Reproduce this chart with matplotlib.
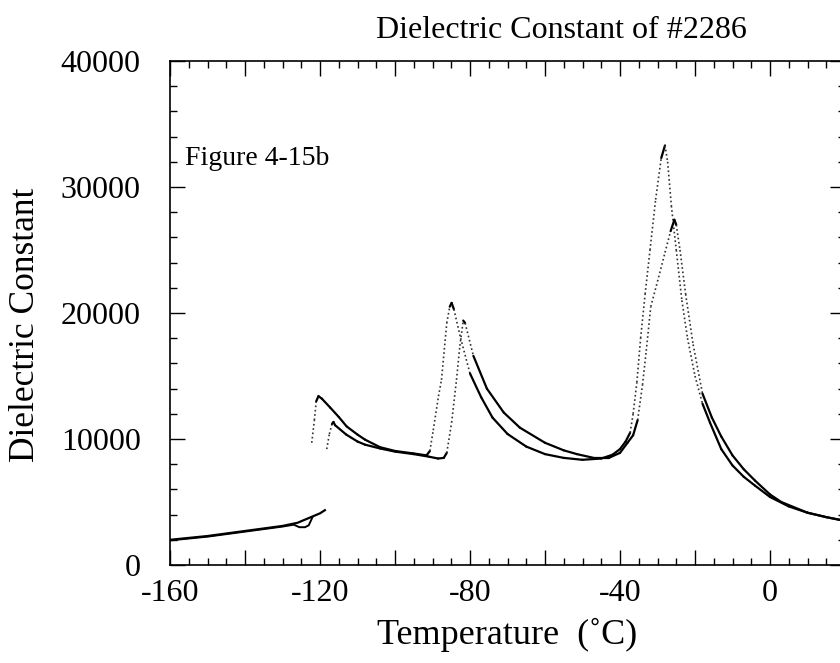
import matplotlib
matplotlib.use("Agg")
import matplotlib.pyplot as plt
from matplotlib.ticker import MultipleLocator, FuncFormatter

plt.rcParams['font.family'] = ['Liberation Serif', 'DejaVu Serif']

# low temperature branch (both runs)
low_a_t = [-160, -150, -140, -130, -126, -124, -122, -120, -118.7]
low_a_v = [2000, 2300, 2700, 3100, 3350, 3600, 3850, 4100, 4350]
low_b_t = [-160, -150, -140, -130, -127, -125.5, -124, -123, -122]
low_b_v = [1950, 2250, 2650, 3050, 3200, 3000, 3000, 3150, 3800]

# run A
a_t = [-122.2, -121.5, -121, -120.4, -119.5, -117.3, -115, -112.9, -110, -108,
       -104, -100, -95, -91.6, -90.7, -89.8, -88.4, -87.6, -86.2, -85.4,
       -84.9, -84.3, -82.5, -80, -77, -74, -70, -65, -60, -55,
       -50, -45, -42, -40, -38.5, -37.3, -36.5, -35.5, -34.5, -33.3,
       -32, -30.5, -29, -28, -27.3, -26.3, -25, -23.5, -22, -20,
       -18, -16, -13, -10, -7, -4, 0, 5, 10, 15, 20]
a_v = [9700, 11500, 13000, 13400, 13200, 12500, 11750, 11000, 10350, 9950,
       9350, 9050, 8850, 8700, 9050, 10700, 13400, 14700, 19200, 20500,
       20800, 20300, 18000, 15200, 13300, 11700, 10400, 9400, 8800, 8500,
       8350, 8450, 8750, 9200, 9800, 10500, 12000, 14500, 18000, 21500,
       25000, 29000, 32300, 33300, 32000, 28500, 25000, 21000, 18000, 15000,
       12800, 11300, 9200, 7900, 7000, 6300, 5400, 4650, 4150, 3800, 3500]

# run B
b_t = [-118.2, -117.5, -116.8, -116.4, -116, -113, -110, -108, -104, -100,
       -95, -91, -88.5, -87, -86.2, -84.9, -83.6, -82.7, -81.8, -81.3,
       -79.1, -75.5, -71, -66.7, -60, -55, -51.5, -47, -43, -40,
       -38, -36.5, -35.3, -34, -33, -31.8, -30, -28, -26.5, -25.5,
       -25, -24, -22.5, -20.5, -18, -15.5, -13, -10, -7, -4,
       0, 3, 10, 15, 20]
b_v = [9200, 10400, 11200, 11350, 11100, 10350, 9800, 9550, 9250, 9000,
       8800, 8600, 8450, 8500, 8900, 11300, 14700, 17400, 19400, 19200,
       16600, 14000, 12100, 10900, 9700, 9100, 8800, 8500, 8500, 8900,
       9700, 10300, 11500, 14300, 17000, 20500, 22500, 24800, 26500, 27400,
       27000, 25000, 21500, 17500, 13600, 11700, 10200, 8700, 7600, 6700,
       5600, 5000, 4150, 3800, 3500]


def draw(ax, t, v):
    # steep parts were recorded with few points -> look dotted
    for i in range(len(t) - 1):
        slope = abs((v[i + 1] - v[i]) / (t[i + 1] - t[i]))
        if slope > 1000:
            ax.plot(t[i:i + 2], v[i:i + 2], color='#333333', lw=1.2,
                    ls=(0, (1, 1.6)))
        else:
            ax.plot(t[i:i + 2], v[i:i + 2], color='black', lw=1.6,
                    solid_capstyle='round')


fig = plt.figure(figsize=(8.4, 6.63), dpi=100)
ax = fig.add_axes([170 / 840, 98 / 663, 675 / 840, 504 / 663])

ax.plot(low_a_t, low_a_v, color='black', lw=1.6)
ax.plot(low_b_t, low_b_v, color='black', lw=1.4)
draw(ax, a_t, a_v)
draw(ax, b_t, b_v)

ax.set_xlim(-160, 20)
ax.set_ylim(0, 40000)
ax.xaxis.set_major_locator(MultipleLocator(20))
ax.xaxis.set_minor_locator(MultipleLocator(5))
ax.yaxis.set_major_locator(MultipleLocator(10000))
ax.yaxis.set_minor_locator(MultipleLocator(2000))
ax.xaxis.set_major_formatter(FuncFormatter(
    lambda x, p: f"{int(round(x))}" if round(x) % 40 == 0 else ""))
ax.yaxis.set_major_formatter(FuncFormatter(lambda y, p: f"{int(y)}"))
ax.tick_params(which='both', direction='in', top=True, right=True,
               width=1.0, labelsize=23)
ax.tick_params(axis='x', which='major', pad=10)
ax.tick_params(axis='y', which='major', pad=21)
ax.tick_params(which='major', length=11)
ax.tick_params(which='minor', length=5)
for s in ax.spines.values():
    s.set_linewidth(1.2)

ax.set_xlabel("Temperature  (˚C)", fontsize=26)
ax.set_ylabel("Dielectric Constant", fontsize=25.5)
ax.xaxis.set_label_coords(0.5, -0.105)
ax.yaxis.set_label_coords(-0.19, 0.476)
fig.text(561 / 840, 1 - 30 / 663, "Dielectric Constant of #2286",
         fontsize=23, ha='center', va='center')
ax.text(-156, 32300, "Figure 4-15b", fontsize=20, ha='left', va='center')

fig.savefig("out.png", dpi=100)
